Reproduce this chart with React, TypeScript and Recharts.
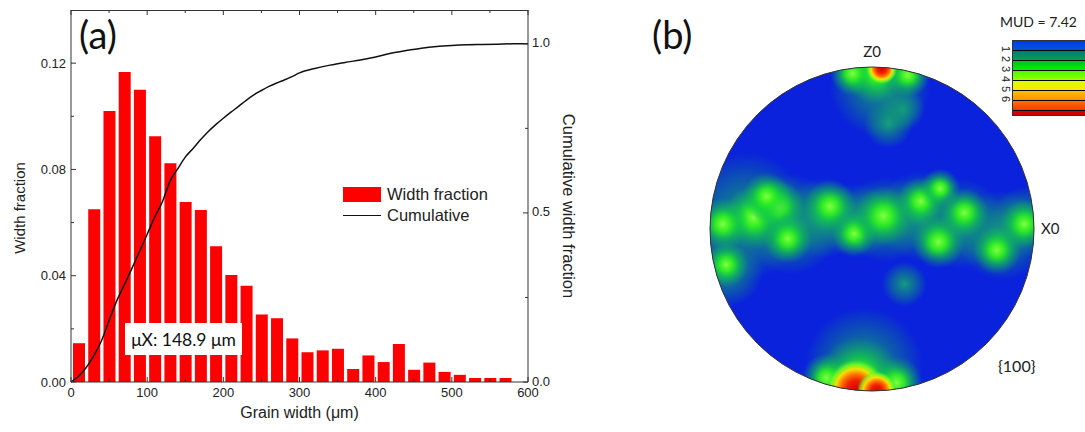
import React from 'react';
import {
  ComposedChart,
  Bar,
  Line,
  XAxis,
  YAxis,
  Legend,
  ScatterChart,
  Scatter,
  ZAxis,
  ReferenceLine,
  ReferenceDot,
} from 'recharts';

// ---- (a) grain width distribution, 20 um bins ----
const binCentres = [
  10, 30, 50, 70, 90, 110, 130, 150, 170, 190, 210, 230, 250, 270, 290,
  310, 330, 350, 370, 390, 410, 430, 450, 470, 490, 510, 530, 550, 570,
];
const widthFraction = [
  0.0146, 0.065, 0.102, 0.1167, 0.11, 0.0925, 0.0823, 0.0677, 0.0647, 0.0511,
  0.0403, 0.0362, 0.0254, 0.024, 0.0164, 0.0112, 0.0119, 0.0125, 0.0049, 0.01,
  0.0075, 0.0143, 0.0046, 0.0073, 0.0038, 0.0027, 0.0015, 0.0015, 0.0015,
];

const cumWidth = [
  0, 10, 20, 30, 40, 50, 60, 70, 80, 90, 100, 110, 120, 130, 140, 150, 160,
  170, 180, 190, 200, 210, 220, 230, 240, 250, 260, 270, 280, 290, 300, 320,
  340, 360, 380, 400, 420, 440, 460, 480, 500, 520, 540, 560, 580, 600,
];
const cumFraction = [
  0, 0.017, 0.043, 0.078, 0.122, 0.182, 0.24, 0.287, 0.336, 0.386, 0.437,
  0.488, 0.533, 0.594, 0.63, 0.665, 0.69, 0.716, 0.74, 0.761, 0.78, 0.798,
  0.815, 0.833, 0.849, 0.862, 0.874, 0.884, 0.893, 0.903, 0.914, 0.927,
  0.937, 0.945, 0.952, 0.961, 0.972, 0.98, 0.987, 0.992, 0.995, 0.997,
  0.998, 0.999, 1.0, 1.0,
];

const xTicks = [0, 50, 100, 150, 200, 250, 300, 350, 400, 450, 500, 550, 600];
const leftTicks = [0, 0.02, 0.04, 0.06, 0.08, 0.1, 0.12];
const rightTicks = [0, 0.25, 0.5, 0.75, 1.0];

// ---- (b) {100} pole figure intensity spots: x, y on the unit circle, z = spread ----
const tealSpots = [
  [-0.78, 0.08, 40], [-0.9, -0.25, 14], [-0.5, 0.03, 25], [-0.3, 0.07, 16],
  [-0.1, 0.05, 14], [0.08, 0.06, 18], [0.3, 0.08, 20], [0.55, 0.03, 20],
  [0.8, -0.04, 20], [0.95, 0.05, 12], [0.19, 0.74, 5], [0.2, -0.34, 5],
  [0.05, 0.88, 25], [-0.05, -0.85, 35], [0.1, 0.65, 6],
];
const greenSpots = [
  [-0.73, 0.07, 10], [-0.58, 0.14, 7], [-0.52, -0.06, 6], [-0.92, 0.03, 7],
  [-0.9, -0.22, 5], [-0.65, 0.2, 6], [-0.26, 0.14, 7], [-0.11, -0.03, 5],
  [0.07, 0.08, 9], [0.3, 0.17, 6], [0.42, 0.25, 4], [0.41, -0.08, 7],
  [0.57, 0.1, 6], [0.77, -0.13, 6], [0.94, 0.03, 6], [0.02, 0.97, 10],
  [0.22, 0.95, 5], [-0.12, 0.96, 5], [-0.08, -0.93, 18], [0.15, -0.95, 7],
  [-0.28, -0.92, 6],
];
const hotSpots = [
  [0.06, 0.99, 2.5], [-0.1, -0.99, 9], [0.03, -1.0, 4],
];

const scaleLabels = ['1', '2', '3', '4', '5', '6'];
const scaleColours = [
  ['#0038f0', '#0058d0'],
  ['#007a80', '#00a050'],
  ['#00c020', '#00f000'],
  ['#40ff00', '#a0ff00'],
  ['#d8ff00', '#ffe800'],
  ['#ffc000', '#ff9000'],
  ['#ff7000', '#ff3800'],
  ['#e00000', '#c00000'],
];

const histData = binCentres.map((x, i) => ({ x, frac: widthFraction[i] }));
const cumData = cumWidth.map((x, i) => ({ x, cum: cumFraction[i] }));
const toPts = (arr: number[][]) => arr.map(([x, y, z]) => ({ x, y, z }));

const AXIS = '#333';
const SANS = '"Liberation Sans", Arial, sans-serif';
const CAL = 'Lato, "Open Sans", sans-serif';

// histogram frame
const H_W = 600;
const H_H = 432;
const H_M = { top: 10, right: 10, bottom: 0, left: 0 };
const H_XAXIS = 50;
const PLOT_H = H_H - H_M.top - H_M.bottom - H_XAXIS;

// bottom ticks also mark the top edge of the frame (Origin-style box)
const BottomTick = (p: any) => {
  const v = p.payload.value;
  const major = v % 100 === 0;
  const len = major ? 5 : 3;
  return (
    <g>
      <line x1={p.x} x2={p.x} y1={p.y} y2={p.y - len} stroke={AXIS} />
      <line x1={p.x} x2={p.x} y1={p.y - PLOT_H} y2={p.y - PLOT_H + len} stroke={AXIS} />
      {major && (
        <text x={p.x} y={p.y + 15} textAnchor="middle" fontSize={13} fontFamily={SANS} fill="#222">
          {v}
        </text>
      )}
    </g>
  );
};

const LeftTick = (p: any) => {
  const v = p.payload.value;
  const major = Math.round(v * 100) % 4 === 0;
  return (
    <g>
      <line x1={p.x} x2={p.x + (major ? 5 : 3)} y1={p.y} y2={p.y} stroke={AXIS} />
      {major && (
        <text x={p.x - 5} y={p.y + 4.5} textAnchor="end" fontSize={13} fontFamily={SANS} fill="#222">
          {v.toFixed(2)}
        </text>
      )}
    </g>
  );
};

const RightTick = (p: any) => {
  const v = p.payload.value;
  const major = Math.round(v * 100) % 50 === 0;
  return (
    <g>
      <line x1={p.x} x2={p.x - (major ? 5 : 3)} y1={p.y} y2={p.y} stroke={AXIS} />
      {major && (
        <text x={p.x + 4} y={p.y + 3.5} textAnchor="start" fontSize={13} fontFamily={SANS} fill="#222">
          {v.toFixed(1)}
        </text>
      )}
    </g>
  );
};

const HistLegend = (props: any) => {
  const items = [...props.payload].sort((a: any, b: any) => (a.type === 'rect' ? -1 : 1) - (b.type === 'rect' ? -1 : 1));
  return (
    <div style={{ fontFamily: SANS, fontSize: 16.5, color: '#222' }}>
      {items.map((e: any) => (
        <div key={e.value} style={{ display: 'flex', alignItems: 'center', height: 21 }}>
          {e.type === 'rect' ? (
            <span style={{ width: 38, height: 15, background: e.color, marginRight: 6 }} />
          ) : (
            <span style={{ width: 38, height: 0, borderTop: `1.5px solid ${e.color}`, marginRight: 6 }} />
          )}
          <span>{e.value}</span>
        </div>
      ))}
    </div>
  );
};

function WidthPanel() {
  return (
    <div style={{ position: 'absolute', left: 0, top: 0 }}>
      <ComposedChart width={H_W} height={H_H} data={histData} margin={H_M}>
        <XAxis
          xAxisId="bottom"
          dataKey="x"
          type="number"
          domain={[0, 600]}
          ticks={xTicks}
          height={H_XAXIS}
          tickSize={0}
          tickMargin={0}
          tickLine={false}
          tick={BottomTick}
          axisLine={{ stroke: AXIS }}
          label={{
            value: 'Grain width (\u03bcm)',
            position: 'center',
            dy: 5,
            style: { fontFamily: SANS, fontSize: 16, fill: '#222' },
          }}
        />
        <XAxis xAxisId="cum" dataKey="x" type="number" domain={[0, 600]} hide />
        <YAxis
          yAxisId="left"
          domain={[0, 0.14]}
          ticks={leftTicks}
          width={71}
          tickSize={0}
          tickMargin={0}
          tickLine={false}
          tick={LeftTick}
          axisLine={{ stroke: AXIS }}
          label={{
            value: 'Width fraction',
            angle: -90,
            position: 'center',
            dx: -16,
            dy: 12,
            style: { fontFamily: SANS, fontSize: 15, fill: '#222', textAnchor: 'middle' },
          }}
        />
        <YAxis
          yAxisId="right"
          orientation="right"
          domain={[0, 1.1]}
          ticks={rightTicks}
          width={62}
          tickSize={0}
          tickMargin={0}
          tickLine={false}
          tick={RightTick}
          axisLine={{ stroke: AXIS }}
          label={{
            value: 'Cumulative width fraction',
            angle: 90,
            position: 'center',
            dx: 10,
            dy: 10,
            style: { fontFamily: SANS, fontSize: 16.5, fill: '#222', textAnchor: 'middle' },
          }}
        />
        <Legend
          layout="vertical"
          align="center"
          verticalAlign="middle"
          wrapperStyle={{ left: 343, top: 184, width: 'auto' }}
          content={HistLegend}
        />
        <Bar
          name="Width fraction"
          dataKey="frac"
          xAxisId="bottom"
          yAxisId="left"
          fill="#ff0000"
          barSize={12}
          legendType="rect"
          isAnimationActive={false}
        />
        <Line
          name="Cumulative"
          data={cumData}
          dataKey="cum"
          xAxisId="cum"
          yAxisId="right"
          type="monotone"
          stroke="#111"
          strokeWidth={1.5}
          dot={false}
          legendType="line"
          isAnimationActive={false}
        />
      </ComposedChart>
      {/* top edge of the plot box */}
      <div style={{ position: 'absolute', left: 71, top: H_M.top - 0.5, width: 457, height: 1.5, background: AXIS }} />
      <div style={{ position: 'absolute', left: 79, top: 11, fontFamily: CAL, fontSize: 38, color: '#111' }}>(a)</div>
      <div
        style={{
          position: 'absolute',
          left: 125,
          top: 323,
          width: 117,
          height: 32,
          background: '#fff',
          fontFamily: CAL,
          fontSize: 17.5,
          color: '#111',
          display: 'flex',
          alignItems: 'center',
          justifyContent: 'center',
        }}
      >
        {'\u03bcX: 148.9 \u03bcm'}
      </div>
    </div>
  );
}

// pole figure geometry
const PF_R = 162;
const PF_M = { top: 67, right: 51, bottom: 41, left: 10 };

const spotShape = (grad: string) => (p: any) => (
  <circle cx={p.cx} cy={p.cy} r={p.width / 2} fill={`url(#${grad})`} clipPath="url(#pfClip)" />
);
const diskShape = (p: any) => <circle cx={p.cx} cy={p.cy} r={PF_R} fill="#0a22dc" />;

function PolePanel() {
  return (
    <div style={{ position: 'absolute', left: 700, top: 0 }}>
      <ScatterChart width={385} height={432} margin={PF_M}>
        <defs>
          <clipPath id="pfClip">
            <circle cx={PF_M.left + PF_R} cy={PF_M.top + PF_R} r={PF_R} />
          </clipPath>
          <radialGradient id="gTeal">
            <stop offset="0%" stopColor="#18b070" stopOpacity={0.85} />
            <stop offset="50%" stopColor="#10a070" stopOpacity={0.5} />
            <stop offset="100%" stopColor="#10a070" stopOpacity={0} />
          </radialGradient>
          <radialGradient id="gGreen">
            <stop offset="0%" stopColor="#80ff40" stopOpacity={1} />
            <stop offset="30%" stopColor="#30f020" stopOpacity={0.95} />
            <stop offset="60%" stopColor="#10d040" stopOpacity={0.55} />
            <stop offset="100%" stopColor="#10b060" stopOpacity={0} />
          </radialGradient>
          <radialGradient id="gHot">
            <stop offset="0%" stopColor="#d80000" />
            <stop offset="30%" stopColor="#f02000" />
            <stop offset="50%" stopColor="#ff7000" />
            <stop offset="68%" stopColor="#ffe000" stopOpacity={0.95} />
            <stop offset="84%" stopColor="#80ff20" stopOpacity={0.7} />
            <stop offset="100%" stopColor="#20e040" stopOpacity={0} />
          </radialGradient>
        </defs>
        <XAxis dataKey="x" type="number" domain={[-1, 1]} hide />
        <YAxis dataKey="y" type="number" domain={[-1, 1]} hide />
        <ZAxis dataKey="z" type="number" domain={[0, 100]} range={[0, 31416]} />
        <Scatter data={[{ x: 0, y: 0, z: 0 }]} shape={diskShape} isAnimationActive={false} />
        <Scatter data={toPts(tealSpots)} shape={spotShape('gTeal')} isAnimationActive={false} />
        <Scatter data={toPts(greenSpots)} shape={spotShape('gGreen')} isAnimationActive={false} />
        <Scatter data={toPts(hotSpots)} shape={spotShape('gHot')} isAnimationActive={false} />
        <ReferenceLine
          x={0}
          stroke="#000"
          strokeWidth={1.5}
          label={{ value: 'Z0', position: 'top', offset: 10, style: { fontFamily: CAL, fontSize: 15, fill: '#222' } }}
        />
        <ReferenceLine
          y={0}
          stroke="#000"
          strokeWidth={1.5}
          label={{ value: 'X0', position: 'right', offset: 7, style: { fontFamily: CAL, fontSize: 15, fill: '#222' } }}
        />
        <ReferenceDot x={0} y={0} r={PF_R} fill="none" stroke="#333" strokeWidth={1} />
      </ScatterChart>
      <div style={{ position: 'absolute', left: -48, top: 11, fontFamily: CAL, fontSize: 38, color: '#111' }}>(b)</div>
      <div style={{ position: 'absolute', left: 298, top: 356, fontFamily: CAL, fontSize: 16, color: '#222' }}>
        {'{100}'}
      </div>
      <div style={{ position: 'absolute', left: 300, top: 13, fontFamily: CAL, fontSize: 14, color: '#222' }}>
        MUD = 7.42
      </div>
      <div style={{ position: 'absolute', left: 312, top: 40, width: 90, border: '1px solid #333', background: '#000' }}>
        {scaleColours.map(([a, b], i) => (
          <div
            key={i}
            style={{
              height: i === scaleColours.length - 1 ? 4 : 9,
              marginTop: i === 0 ? 0 : 1,
              background: `linear-gradient(${a}, ${b})`,
            }}
          />
        ))}
      </div>
      {scaleLabels.map((s, i) => (
        <div
          key={s}
          style={{
            position: 'absolute',
            left: 303,
            top: 44 + i * 10,
            fontFamily: SANS,
            fontSize: 11,
            lineHeight: '10px',
            color: '#222',
            transform: 'rotate(90deg)',
          }}
        >
          {s}
        </div>
      ))}
    </div>
  );
}

export default function App() {
  return (
    <div style={{ position: 'absolute', left: 0, top: 0, width: 1085, height: 432, background: '#fff', overflow: 'hidden' }}>
      <WidthPanel />
      <PolePanel />
    </div>
  );
}
